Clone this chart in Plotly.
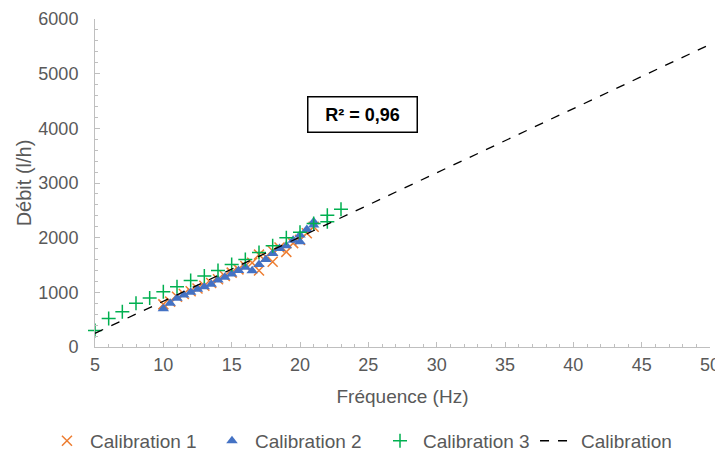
import plotly.graph_objects as go

# Calibration 1 (orange crosses)
cal1_x = [10, 10.5, 11, 11.5, 12, 12.5, 13, 13.5, 14, 14.5, 15, 15.5, 16, 16.5, 17, 17, 17.5, 18, 18, 18.5, 19, 19.5, 20, 20.5, 21]
cal1_y = [780, 830, 920, 970, 1020, 1070, 1120, 1170, 1240, 1300, 1360, 1420, 1480, 1540, 1400, 1690, 1650, 1560, 1760, 1820, 1740, 1900, 1960, 2080, 2200]

# Calibration 2 (blue triangles)
cal2_x = [10, 10.5, 11, 11.5, 12, 12.5, 13, 13.5, 14, 14.5, 15, 15.5, 16, 16.5, 17, 17.5, 18, 18.5, 19, 19.5, 20, 20, 20.5, 21, 21]
cal2_y = [700, 800, 890, 950, 1000, 1055, 1100, 1150, 1225, 1275, 1335, 1400, 1460, 1395, 1510, 1600, 1710, 1800, 1850, 1955, 1925, 2050, 2150, 2230, 2290]

# Calibration 3 (green plus)
cal3_x = [5, 6, 7, 8, 9, 10, 11, 12, 13, 14, 15, 16, 17, 18, 19, 20, 21, 22, 22, 23]
cal3_y = [300, 520, 645, 800, 895, 1010, 1100, 1215, 1300, 1400, 1510, 1600, 1730, 1850, 2000, 2100, 2260, 2410, 2290, 2520]

# Calibration line
line_x = [5, 50]
line_y = [250, 5535]

r2_text = "R² = 0,96"

font = "Liberation Sans, Arial, sans-serif"
grey = "#595959"

fig = go.Figure()
fig.add_trace(go.Scatter(x=cal1_x, y=cal1_y, mode="markers", name="Calibration 1", cliponaxis=False,
                         legend="legend",
                         marker=dict(symbol="x-thin-open", size=10, color="#ED7D31",
                                     line=dict(color="#ED7D31", width=1.5))))
fig.add_trace(go.Scatter(x=cal2_x, y=cal2_y, mode="markers", name="Calibration 2", cliponaxis=False,
                         legend="legend2",
                         marker=dict(symbol="triangle-up", size=10, color="#4472C4")))
fig.add_trace(go.Scatter(x=cal3_x, y=cal3_y, mode="markers", name="Calibration 3", cliponaxis=False,
                         legend="legend3",
                         marker=dict(symbol="cross-thin-open", size=10, color="#00B050",
                                     line=dict(color="#00B050", width=1.5))))
fig.add_trace(go.Scatter(x=line_x, y=line_y, mode="lines", name="Calibration",
                         legend="legend4",
                         line=dict(color="black", width=1.3, dash="dash")))

fig.add_annotation(x=24.6, y=4260, xref="x", yref="y", text="<b>" + r2_text + "</b>",
                   showarrow=False, font=dict(family=font, size=18, color="black"),
                   width=94, height=20,
                   bordercolor="black", borderwidth=1.5, borderpad=7, bgcolor="white")

axis_common = dict(showgrid=False, zeroline=False, showline=True, linecolor="#BFBFBF",
                   linewidth=1, ticks="inside", tickcolor="#BFBFBF", ticklen=5,
                   tickfont=dict(family=font, size=18, color=grey),
                   mirror=False, automargin=False)

fig.update_xaxes(range=[5, 50], tickmode="linear", tick0=5, dtick=5,
                 minor=dict(ticks="inside", dtick=1, ticklen=3, tickcolor="#BFBFBF"),
                 ticklabelstandoff=1,
                 title=dict(text="Fréquence (Hz)", font=dict(family=font, size=19, color=grey), standoff=16),
                 **axis_common)
fig.update_yaxes(range=[0, 6000], tickmode="linear", tick0=0, dtick=1000,
                 minor=dict(ticks="inside", dtick=200, ticklen=3, tickcolor="#BFBFBF"),
                 ticklabelstandoff=12,
                 title=dict(text="Débit (l/h)", font=dict(family=font, size=20, color=grey), standoff=1),
                 **axis_common)


def legend_at(xpos):
    return dict(orientation="h", xref="container", yref="container",
                x=xpos, xanchor="left", y=0.025, yanchor="middle",
                font=dict(family=font, size=19, color=grey), itemwidth=36,
                bgcolor="rgba(0,0,0,0)")


# page body has an 8px margin, so the figure is sized/positioned to compensate
fig.update_layout(
    width=715, height=444,
    margin=dict(l=87, r=13, t=11, b=105, autoexpand=False),
    paper_bgcolor="white", plot_bgcolor="white",
    showlegend=True,
    legend=legend_at(0.0503),
    legend2=legend_at(0.2811),
    legend3=legend_at(0.5161),
    legend4=legend_at(0.7371),
)

fig.write_html("out.html")
